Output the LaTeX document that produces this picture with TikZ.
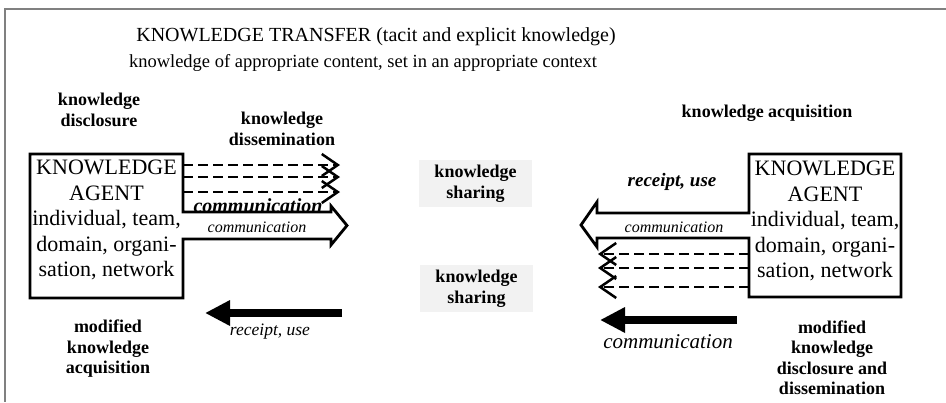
\documentclass[tikz,border=0pt]{standalone}
\usepackage{fontspec}
\setmainfont{Liberation Serif}
\usetikzlibrary{arrows.meta}
\definecolor{framegray}{RGB}{128,128,128}
\definecolor{sharebg}{RGB}{242,242,242}
\tikzset{
  frameline/.style={draw=framegray, line width=1.6pt},
  agentline/.style={draw=black, line width=2.8pt, line join=miter},
  dasharrow/.style={line width=2.5pt, dash pattern=on 10pt off 5pt,
    -{Straight Barb[length=16pt,width=22pt]}},
  solidarrow/.style={line width=8pt, -{Triangle[length=25pt,width=24pt]}},
  boldlabel/.style={font=\fontsize{18}{20.5}\selectfont\bfseries, align=center, inner sep=0pt},
  sharebox/.style={boldlabel, fill=sharebg, minimum width=113pt, minimum height=47pt},
  agenttext/.style={font=\fontsize{22}{25.5}\selectfont, align=center, inner sep=0pt},
  smallit/.style={font=\fontsize{16}{18}\selectfont\itshape, inner sep=0pt},
  bigit/.style={font=\fontsize{20}{22}\selectfont\itshape, inner sep=0pt},
  boldit/.style={font=\fontsize{20}{22}\selectfont\bfseries\itshape, inner sep=0pt},
}
\begin{document}
\begin{tikzpicture}[x=1pt,y=-1pt]
\useasboundingbox (0,0) rectangle (946,402);
% frame
\coordinate (fTL) at (5,9);
\coordinate (fTR) at (946,9);
\coordinate (fBL) at (5,402);
\draw[frameline] (fTR) -- (fTL) -- (fBL);
% title
\node[font=\fontsize{20}{22}\selectfont, inner sep=0pt] (title) at (376,37)
  {KNOWLEDGE TRANSFER (tacit and explicit knowledge)};
\node[font=\fontsize{18.5}{20}\selectfont, inner sep=0pt] (subtitle) at (363,63)
  {knowledge of appropriate content, set in an appropriate context};
% labels
\node[boldlabel] (disc) at (99,110) {knowledge\\disclosure};
\node[boldlabel] (dissem) at (282,129) {knowledge\\dissemination};
\node[boldlabel] (acq) at (767,113) {knowledge acquisition};
\node[sharebox] (share1) at (475.5,183.5) {knowledge\\sharing};
\node[sharebox] (share2) at (476.5,288.5) {knowledge\\sharing};
\node[boldlabel] (modacq) at (108,349) {modified\\knowledge\\acquisition};
\node[boldlabel] (moddis) at (832,357.5) {modified\\knowledge\\disclosure and\\dissemination};
% left agent with hollow arrow
\draw[agentline] (30,154) -- (183,154) -- (183,212) -- (331,212) -- (331,206)
  -- (347,225.5) -- (331,245) -- (331,239) -- (183,239) -- (183,298) -- (30,298) -- cycle;
\node[agenttext] (agentL) at (106.5,220)
  {KNOWLEDGE\\AGENT\\individual, team,\\domain, organi-\\sation, network};
\node[boldit, anchor=base] (commL) at (258,212) {communication};
\node[smallit] (commLs) at (257,227) {communication};
% left dashed arrows
\coordinate (sLa) at (183,165); \coordinate (eLa) at (340,165);
\coordinate (sLb) at (183,177); \coordinate (eLb) at (340,177);
\coordinate (sLc) at (183,192); \coordinate (eLc) at (340,192);
\draw[dasharrow] (sLa) -- (eLa);
\draw[dasharrow] (sLb) -- (eLb);
\draw[dasharrow] (sLc) -- (eLc);
% left solid arrow
\coordinate (sLs) at (342,313); \coordinate (eLs) at (205,313);
\draw[solidarrow] (sLs) -- (eLs);
\node[font=\fontsize{17.5}{20}\selectfont\itshape, inner sep=0pt] (recL) at (270,332) {receipt, use};
% right agent with hollow arrow
\draw[agentline] (749,154) -- (901,154) -- (901,297) -- (749,297) -- (749,238)
  -- (597,238) -- (597,247) -- (581,225) -- (597,202) -- (597,213) -- (749,213) -- cycle;
\node[agenttext] (agentR) at (825,221)
  {KNOWLEDGE\\AGENT\\individual, team,\\domain, organi-\\sation, network};
\node[boldit, font=\fontsize{19}{21}\selectfont\bfseries\itshape] (recR) at (672,182) {receipt, use};
\node[smallit] (commRs) at (674,227) {communication};
% right dashed arrows
\coordinate (sRa) at (749,254); \coordinate (eRa) at (598,254);
\coordinate (sRb) at (749,268); \coordinate (eRb) at (598,268);
\coordinate (sRc) at (749,287); \coordinate (eRc) at (598,287);
\draw[dasharrow] (sRa) -- (eRa);
\draw[dasharrow] (sRb) -- (eRb);
\draw[dasharrow] (sRc) -- (eRc);
% right solid arrow
\coordinate (sRs) at (737,320); \coordinate (eRs) at (600,320);
\draw[solidarrow] (sRs) -- (eRs);
\node[bigit, font=\fontsize{21}{23}\selectfont\itshape] (commR) at (668,342) {communication};
\end{tikzpicture}
\end{document}
